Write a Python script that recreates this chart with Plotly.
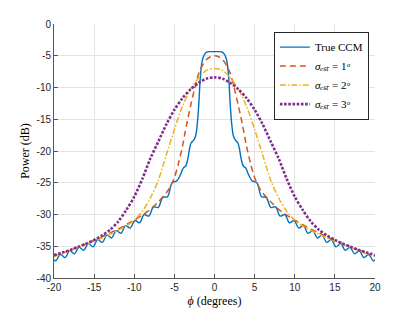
import plotly.graph_objects as go

# ---------------- data ----------------
phi_true = [-20.0, -19.78, -19.2, -18.62, -18.04, -17.46, -16.88, -16.3, -15.72, -15.14,
            -14.56, -13.98, -13.4, -12.82, -12.24, -11.66, -11.08, -10.5, -9.92, -9.34,
            -8.76, -8.18, -7.6, -7.02, -6.44, -5.86, -5.28, -4.7, -4.2, -3.9,
            -3.6, -3.35, -3.1, -2.9, -2.6, -2.35, -2.15, -1.95, -1.8, -1.65,
            -1.45, -1.2, -0.9, -0.5,
            0.0,
            0.5, 0.9, 1.2, 1.45, 1.65, 1.8, 1.95, 2.15, 2.35, 2.6,
            2.9, 3.1, 3.35, 3.6, 3.9, 4.2, 4.7, 5.28, 5.86, 6.44,
            7.02, 7.6, 8.18, 8.76, 9.34, 9.92, 10.5, 11.08, 11.66, 12.24,
            12.82, 13.4, 13.98, 14.56, 15.14, 15.72, 16.3, 16.88, 17.46, 18.04,
            18.62, 19.2, 19.78, 20.0]
pow_true = [-37.1, -37.3, -36.3, -36.8, -35.7, -36.2, -35.15, -35.65, -34.55, -35.1,
            -33.95, -34.4, -33.25, -33.7, -32.55, -32.95, -31.75, -32.15, -30.95, -31.3,
            -30.0, -30.25, -28.8, -28.9, -27.3, -27.2, -25.0, -24.7, -23.6, -22.7,
            -22.4, -21.4, -19.6, -18.7, -18.3, -17.6, -15.8, -12.5, -9.0, -6.8,
            -5.4, -4.7, -4.4, -4.35,
            -4.35,
            -4.35, -4.4, -4.7, -5.4, -6.8, -9.0, -12.5, -15.8, -17.6, -18.3,
            -18.7, -19.6, -21.4, -22.4, -22.7, -23.6, -24.7, -25.0, -27.2, -27.3,
            -28.9, -28.8, -30.25, -30.0, -31.3, -30.95, -32.15, -31.75, -32.95, -32.55,
            -33.7, -33.25, -34.4, -33.95, -35.1, -34.55, -35.65, -35.15, -36.2, -35.7,
            -36.8, -36.3, -37.3, -37.1]

phi_s1 = [-20, -19, -18, -17, -16, -15, -14, -13, -12, -11, -10, -9, -8, -7, -6,
          -5.5, -5, -4.5, -4, -3.5, -3, -2.5, -2, -1.5, -1, -0.5, 0,
          0.5, 1, 1.5, 2, 2.5, 3, 3.5, 4, 4.5, 5, 5.5,
          6, 7, 8, 9, 10, 11, 12, 13, 14, 15, 16, 17, 18, 19, 20]
pow_s1 = [-36.6, -36.1, -35.6, -35.1, -34.6, -34.1, -33.5, -32.9, -32.3, -31.6, -30.9, -30.1, -29.2, -28.0, -26.6,
          -25.6, -24.2, -22.0, -19.3, -16.0, -13.0, -10.3, -7.9, -6.5, -5.6, -5.15, -5.0,
          -5.15, -5.6, -6.5, -7.9, -10.3, -13.0, -16.0, -19.3, -22.0, -24.2, -25.6,
          -26.6, -28.0, -29.2, -30.1, -30.9, -31.6, -32.3, -32.9, -33.5, -34.1, -34.6, -35.1, -35.6, -36.1, -36.6]

phi_s2 = [-20, -19, -18, -17, -16, -15, -14, -13, -12, -11, -10, -9, -8, -7, -6, -5, -4, -3, -2, -1, 0,
          1, 2, 3, 4, 5, 6, 7, 8, 9, 10, 11, 12, 13, 14, 15, 16, 17, 18, 19, 20]
pow_s2 = [-36.6, -36.2, -35.7, -35.2, -34.7, -34.2, -33.7, -33.1, -32.5, -31.8, -30.9, -29.5, -27.4, -24.6, -20.6,
          -16.6, -13.0, -10.3, -8.5, -7.3, -7.0,
          -7.3, -8.5, -10.3, -13.0, -16.6, -20.6, -24.6, -27.4, -29.5, -30.9, -31.8, -32.5, -33.1, -33.7,
          -34.2, -34.7, -35.2, -35.7, -36.2, -36.6]

phi_s3 = [-20, -19, -18, -17, -16, -15, -14, -13, -12, -11, -10, -9, -8, -7, -6, -5, -4, -3, -2, -1, 0,
          1, 2, 3, 4, 5, 6, 7, 8, 9, 10, 11, 12, 13, 14, 15, 16, 17, 18, 19, 20]
pow_s3 = [-36.4, -36.0, -35.6, -35.1, -34.6, -34.0, -33.3, -32.4, -31.1, -29.3, -27.2, -24.4, -21.2, -18.5, -15.8,
          -13.5, -11.7, -10.3, -9.3, -8.6, -8.4,
          -8.6, -9.3, -10.3, -11.7, -13.5, -15.8, -18.5, -21.2, -24.4, -27.2, -29.3, -31.1, -32.4, -33.3,
          -34.0, -34.6, -35.1, -35.6, -36.0, -36.4]

series_names = ["True CCM",
                "<i>σₑₛₜ</i> = 1<i>ᵒ</i>",
                "<i>σₑₛₜ</i> = 2<i>ᵒ</i>",
                "<i>σₑₛₜ</i> = 3<i>ᵒ</i>"]

x_ticks = [-20, -15, -10, -5, 0, 5, 10, 15, 20]
x_tick_labels = ["-20", "-15", "-10", "-5", "0", "5", "10", "15", "20"]
y_ticks = [-40, -35, -30, -25, -20, -15, -10, -5, 0]
y_tick_labels = ["-40", "-35", "-30", "-25", "-20", "-15", "-10", "-5", "0"]

SERIF = "Liberation Serif"
SANS = "Liberation Sans"

# ---------------- figure ----------------
fig = go.Figure()
fig.add_trace(go.Scatter(x=phi_true, y=pow_true, mode="lines", name=series_names[0],
                         line=dict(color="#0072BD", width=1.4, shape="spline", smoothing=1.0)))
fig.add_trace(go.Scatter(x=phi_s1, y=pow_s1, mode="lines", name=series_names[1],
                         line=dict(color="#D95319", width=1.5, dash="6px,4px", shape="spline", smoothing=0.8)))
fig.add_trace(go.Scatter(x=phi_s2, y=pow_s2, mode="lines", name=series_names[2],
                         line=dict(color="#EDB120", width=1.5, dash="6px,2px,1.5px,2px", shape="spline", smoothing=0.8)))
fig.add_trace(go.Scatter(x=phi_s3, y=pow_s3, mode="lines", name=series_names[3],
                         line=dict(color="#7E2F8E", width=2.6, dash="2.6px,1.6px", shape="spline", smoothing=0.8)))

tickfont = dict(family=SANS, size=10, color="#262626")
axis_common = dict(showgrid=True, gridcolor="#e3e3e3", gridwidth=1, zeroline=False,
                   showline=True, linecolor="#555555", linewidth=1, ticks="inside",
                   ticklen=4, tickcolor="#555555", tickfont=tickfont, mirror=False,
                   automargin=False)

fig.update_layout(
    width=407, height=304,
    margin=dict(l=46, r=40, t=16, b=34, autoexpand=False),
    paper_bgcolor="white", plot_bgcolor="white",
    showlegend=True,
    legend=dict(x=0.685, y=0.97, xanchor="left", yanchor="top",
                bgcolor="white", bordercolor="#262626", borderwidth=1,
                font=dict(family=SERIF, size=11, color="#000000"),
                itemwidth=30, tracegroupgap=0),
    xaxis=dict(range=[-20, 20], tickvals=x_ticks, ticktext=x_tick_labels,
               title=dict(text="<i>ϕ</i> (degrees)", standoff=4,
                          font=dict(family=SERIF, size=12, color="#000000")),
               **axis_common),
    yaxis=dict(range=[-40, 0], tickvals=y_ticks, ticktext=y_tick_labels,
               title=dict(text="Power (dB)", standoff=4,
                          font=dict(family=SERIF, size=12, color="#000000")),
               **axis_common),
)

fig.write_html("out.html")
